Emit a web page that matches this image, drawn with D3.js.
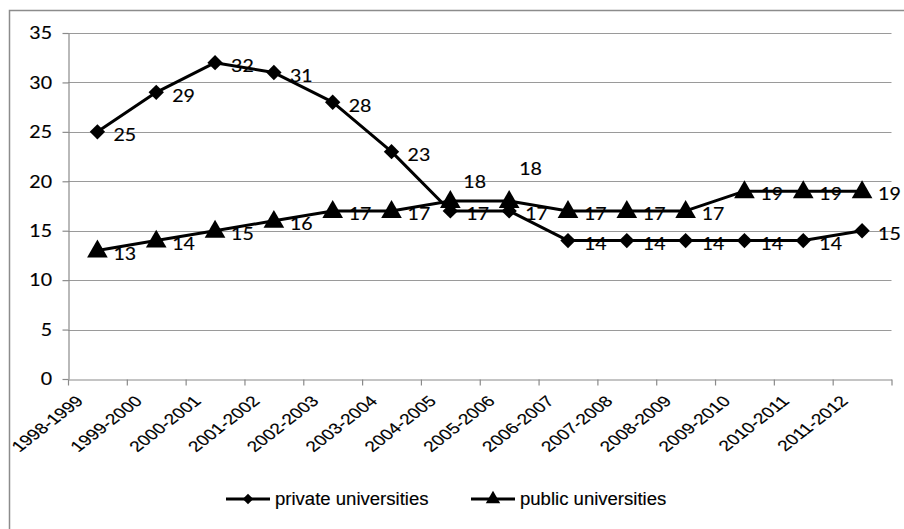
<!DOCTYPE html>
<html>
<head>
<meta charset="utf-8">
<script src="https://cdn.jsdelivr.net/npm/d3@7"></script>
<style>
  html, body { margin: 0; padding: 0; background: #fff; }
  svg { display: block; }
  text { stroke: #000; stroke-width: 0.15px; }
</style>
</head>
<body>
<svg id="chart" width="904" height="529"></svg>
<script>
// Academic years on the category axis
const categories = ["1998-1999", "1999-2000", "2000-2001", "2001-2002", "2002-2003",
  "2003-2004", "2004-2005", "2005-2006", "2006-2007", "2007-2008",
  "2008-2009", "2009-2010", "2010-2011", "2011-2012"];

// Series values per academic year
const privateValues = [25, 29, 32, 31, 28, 23, 17, 17, 14, 14, 14, 14, 14, 15];
const publicValues  = [13, 14, 15, 16, 17, 17, 18, 18, 17, 17, 17, 19, 19, 19];

// Value axis ticks
const yTicks = [0, 5, 10, 15, 20, 25, 30, 35];

const seriesNames = ["private universities", "public universities"];

// ---- layout ----
const W = 904, H = 529;
const plot = { left: 68, right: 891.5, top: 33, bottom: 379 };
const TEXT_STRETCH = 1.12;   // horizontal stretch of numeric labels
const AXIS_STRETCH = 1.28;   // horizontal stretch of category labels
const LEGEND_STRETCH = 1.06;
const NUM_FONT = "Lato, 'Open Sans', sans-serif";
const SANS_FONT = "'Liberation Sans', Arial, sans-serif";

const svg = d3.select("#chart");

const x = d3.scaleBand().domain(categories).range([plot.left, plot.right]).padding(0);
const cx = c => x(c) + x.bandwidth() / 2;
const y = d3.scaleLinear().domain([0, 35]).range([plot.bottom, plot.top]);

// outer chart border (top and left edges visible)
svg.append("rect")
  .attr("x", 9.5).attr("y", 10.5)
  .attr("width", W + 20).attr("height", H + 20)
  .attr("fill", "none").attr("stroke", "#8c8c8c").attr("stroke-width", 1.5);

// gridlines
svg.append("g").selectAll("line")
  .data(yTicks.filter(t => t > 0))
  .join("line")
  .attr("x1", plot.left).attr("x2", plot.right)
  .attr("y1", d => Math.round(y(d)) + 0.5).attr("y2", d => Math.round(y(d)) + 0.5)
  .attr("stroke", "#9a9a9a").attr("stroke-width", 1);

// value axis
const yAxis = svg.append("g")
  .attr("transform", `translate(${plot.left + 0.5},0)`)
  .call(d3.axisLeft(y).tickValues(yTicks).tickSize(6).tickSizeOuter(0).tickFormat(""));
yAxis.selectAll("path, line").attr("stroke", "#8a8a8a").attr("stroke-width", 1.2);

svg.append("g").selectAll("text")
  .data(yTicks)
  .join("text")
  .attr("transform", d => `translate(52,${y(d)}) scale(${TEXT_STRETCH},1)`)
  .attr("text-anchor", "end")
  .attr("dy", "0.36em")
  .attr("font-family", NUM_FONT)
  .attr("font-size", 17.5)
  .attr("fill", "#000")
  .text(d => d);

// category axis with ticks on category boundaries
const xb = d3.scaleLinear().domain([0, categories.length]).range([plot.left, plot.right]);
const xAxis = svg.append("g")
  .attr("transform", `translate(0,${Math.round(plot.bottom) + 0.5})`)
  .call(d3.axisBottom(xb).tickValues(d3.range(categories.length + 1)).tickSize(6).tickSizeOuter(0).tickFormat(""));
xAxis.selectAll("path, line").attr("stroke", "#8a8a8a").attr("stroke-width", 1.2);

svg.append("g").selectAll("text")
  .data(categories)
  .join("text")
  .attr("transform", d => `translate(${cx(d) - 13},${plot.bottom + 23}) scale(${AXIS_STRETCH},1) rotate(-45)`)
  .attr("text-anchor", "end")
  .attr("font-family", SANS_FONT)
  .attr("font-size", 15)
  .attr("fill", "#000")
  .text(d => d);

// series lines
const line = d3.line().x(d => cx(d.cat)).y(d => y(d.v));
const privData = categories.map((c, i) => ({ cat: c, v: privateValues[i] }));
const pubData = categories.map((c, i) => ({ cat: c, v: publicValues[i] }));

[privData, pubData].forEach(data => {
  svg.append("path")
    .datum(data)
    .attr("d", line)
    .attr("fill", "none")
    .attr("stroke", "#000")
    .attr("stroke-width", 3)
    .attr("stroke-linejoin", "round");
});

// markers
svg.append("g").selectAll("path")
  .data(privData)
  .join("path")
  .attr("d", d3.symbol().type(d3.symbolSquare).size(118))
  .attr("transform", d => `translate(${cx(d.cat)},${y(d.v)}) rotate(45)`)
  .attr("fill", "#000");

svg.append("g").selectAll("path")
  .data(pubData)
  .join("path")
  .attr("transform", d => `translate(${cx(d.cat)},${y(d.v) + 1})`)
  .attr("d", d3.symbol().type(d3.symbolTriangle).size(185))
  .attr("fill", "#000");

// data labels (right of point, two public labels lifted above the crossing)
const labelShift = { 6: [13, -19], 7: [10, -32] };
function drawLabels(data, shifts) {
  svg.append("g").selectAll("text")
    .data(data)
    .join("text")
    .attr("transform", (d, i) => {
      const s = shifts[i] || [16, 3];
      return `translate(${cx(d.cat) + s[0]},${y(d.v) + s[1]}) scale(${TEXT_STRETCH},1)`;
    })
    .attr("dy", "0.36em")
    .attr("font-family", NUM_FONT)
    .attr("font-size", 17.5)
    .attr("fill", "#000")
    .text(d => d.v);
}
drawLabels(privData, {});
drawLabels(pubData, labelShift);

// legend
const legendY = 499;
const legend = svg.append("g");
const items = [
  { name: seriesNames[0], x0: 226, marker: "diamond" },
  { name: seriesNames[1], x0: 471, marker: "triangle" }
];
items.forEach(it => {
  legend.append("line")
    .attr("x1", it.x0).attr("x2", it.x0 + 44)
    .attr("y1", legendY).attr("y2", legendY)
    .attr("stroke", "#000").attr("stroke-width", 3);
  legend.append("path")
    .attr("transform", it.marker === "diamond"
      ? `translate(${it.x0 + 22},${legendY}) rotate(45)`
      : `translate(${it.x0 + 22},${legendY})`)
    .attr("d", it.marker === "diamond"
      ? d3.symbol().type(d3.symbolSquare).size(55)()
      : d3.symbol().type(d3.symbolTriangle).size(90)())
    .attr("fill", "#000");
  legend.append("text")
    .attr("transform", `translate(${it.x0 + 49},${legendY}) scale(${LEGEND_STRETCH},1)`)
    .attr("dy", "0.36em")
    .attr("font-family", SANS_FONT)
    .attr("font-size", 17.5)
    .attr("fill", "#000")
    .text(it.name);
});
</script>
</body>
</html>
